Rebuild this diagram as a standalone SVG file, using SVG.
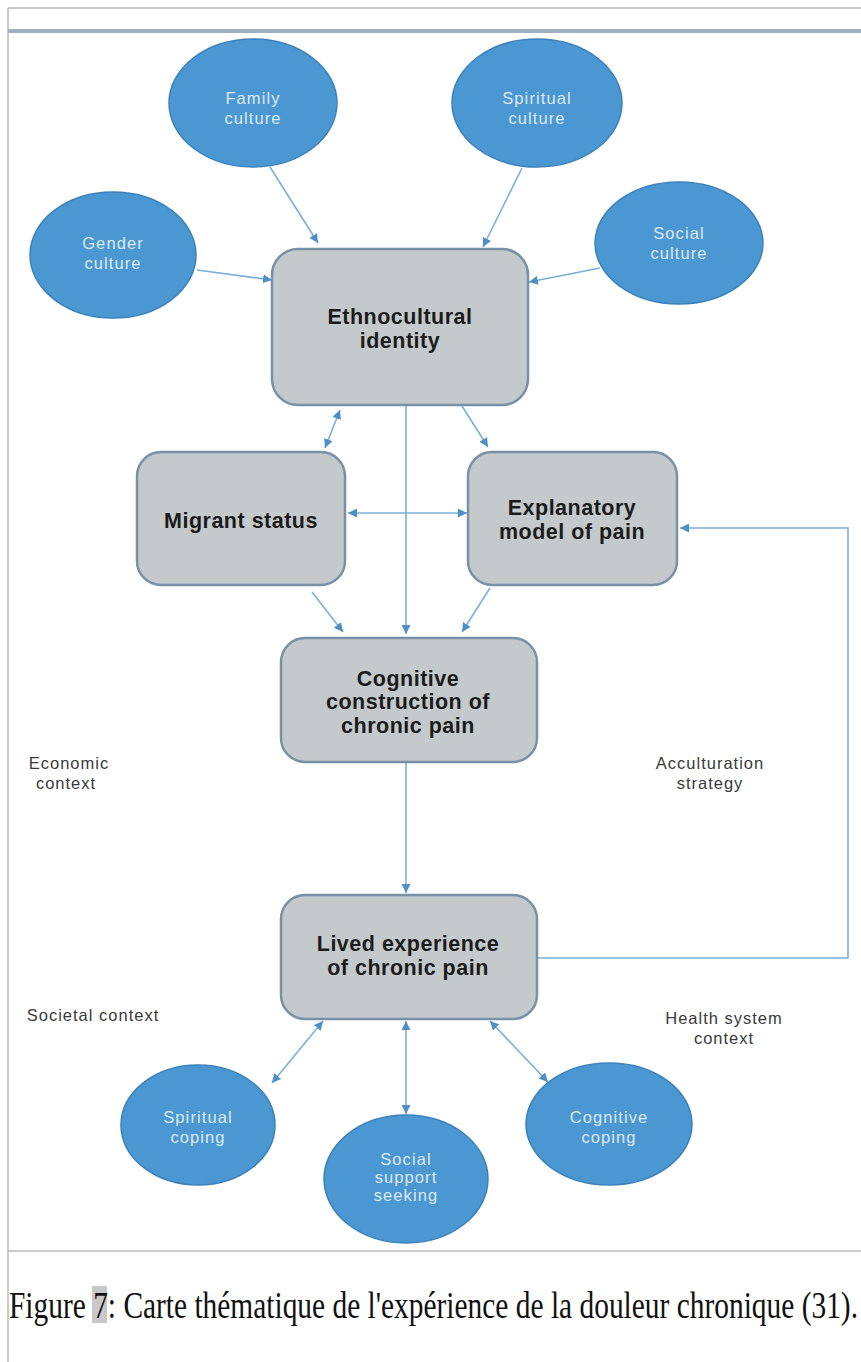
<svg xmlns="http://www.w3.org/2000/svg" width="861" height="1362" viewBox="0 0 861 1362">
<style>
.frame{stroke:#b9b9b9;stroke-width:1.5;fill:none}
.ell{fill:#4a97d2;stroke:#3b82bb;stroke-width:1.5}
.etx{font-family:"Liberation Sans",Arial,sans-serif;font-size:16.5px;letter-spacing:1.1px;fill:#dde9f5;text-anchor:middle}
.box{fill:#c4c9cc;stroke:#7891a7;stroke-width:2.5}
.btx{font-family:"Liberation Sans",Arial,sans-serif;font-size:21.5px;letter-spacing:0.5px;font-weight:bold;fill:#1b1b1b;text-anchor:middle}
.lbl{font-family:"Liberation Sans",Arial,sans-serif;font-size:16.5px;letter-spacing:1px;fill:#3a3a3a;text-anchor:middle}
.con{fill:none;stroke:#7ab0d8;stroke-width:1.6}
</style>
<defs>
<marker id="ah" viewBox="0 0 10 10" refX="10" refY="5" markerWidth="9" markerHeight="9" markerUnits="userSpaceOnUse" orient="auto-start-reverse">
<path d="M0,0 L10,5 L0,10 z" fill="#4e90c6"/>
</marker>
</defs>
<rect x="0" y="0" width="861" height="1362" fill="#ffffff"/>
<g id="frame">
<line class="frame" x1="8" y1="8" x2="861" y2="8"/>
<line class="frame" x1="8" y1="8" x2="8" y2="1362"/>
<rect x="8" y="29" width="853" height="4" fill="#9eb0c1"/>
<line class="frame" x1="8" y1="1251" x2="861" y2="1251"/>
</g>
<g id="connectors">
<path class="con" d="M270,167 L318,243" marker-end="url(#ah)"/>
<path class="con" d="M197,270 L272,280" marker-end="url(#ah)"/>
<path class="con" d="M522,168 L483,247" marker-end="url(#ah)"/>
<path class="con" d="M600,268 L529,282" marker-end="url(#ah)"/>
<path class="con" d="M340,410 L325,448" marker-start="url(#ah)" marker-end="url(#ah)"/>
<path class="con" d="M462,406 L488,447" marker-end="url(#ah)"/>
<path class="con" d="M406,405 L406,634" marker-end="url(#ah)"/>
<path class="con" d="M348,513 L467,513" marker-start="url(#ah)" marker-end="url(#ah)"/>
<path class="con" d="M312,592 L343,632" marker-end="url(#ah)"/>
<path class="con" d="M490,588 L462,632" marker-end="url(#ah)"/>
<path class="con" d="M406,763 L406,893" marker-end="url(#ah)"/>
<path class="con" d="M537,958 L848,958 L848,528 L680,528" marker-end="url(#ah)"/>
<path class="con" d="M323,1021 L272,1083" marker-start="url(#ah)" marker-end="url(#ah)"/>
<path class="con" d="M406,1021 L406,1114" marker-start="url(#ah)" marker-end="url(#ah)"/>
<path class="con" d="M490,1021 L548,1082" marker-start="url(#ah)" marker-end="url(#ah)"/>
</g>
<g id="family-culture">
<ellipse class="ell" cx="253" cy="103" rx="84" ry="64"/>
<text class="etx" x="253" y="104">Family</text>
<text class="etx" x="253" y="124">culture</text>
</g>
<g id="spiritual-culture">
<ellipse class="ell" cx="537" cy="103" rx="85" ry="64"/>
<text class="etx" x="537" y="104">Spiritual</text>
<text class="etx" x="537" y="124">culture</text>
</g>
<g id="gender-culture">
<ellipse class="ell" cx="113" cy="255" rx="83" ry="63"/>
<text class="etx" x="113" y="249">Gender</text>
<text class="etx" x="113" y="269">culture</text>
</g>
<g id="social-culture">
<ellipse class="ell" cx="679" cy="243" rx="84" ry="61"/>
<text class="etx" x="679" y="239">Social</text>
<text class="etx" x="679" y="259">culture</text>
</g>
<g id="ethnocultural-identity">
<rect class="box" x="272" y="249" width="256" height="156" rx="26"/>
<text class="btx" x="400" y="324">Ethnocultural</text>
<text class="btx" x="400" y="348">identity</text>
</g>
<g id="migrant-status">
<rect class="box" x="137" y="452" width="208" height="133" rx="24"/>
<text class="btx" x="241" y="528">Migrant status</text>
</g>
<g id="explanatory-model">
<rect class="box" x="468" y="452" width="209" height="133" rx="24"/>
<text class="btx" x="572" y="515">Explanatory</text>
<text class="btx" x="572" y="539">model of pain</text>
</g>
<g id="cognitive-construction">
<rect class="box" x="281" y="638" width="256" height="124" rx="24"/>
<text class="btx" x="408" y="686">Cognitive</text>
<text class="btx" x="408" y="709">construction of</text>
<text class="btx" x="408" y="733">chronic pain</text>
</g>
<g id="lived-experience">
<rect class="box" x="281" y="895" width="256" height="124" rx="24"/>
<text class="btx" x="408" y="951">Lived experience</text>
<text class="btx" x="408" y="975">of chronic pain</text>
</g>
<g id="context-labels">
<text class="lbl" x="69" y="769">Economic</text>
<text class="lbl" x="66" y="789">context</text>
<text class="lbl" x="710" y="769">Acculturation</text>
<text class="lbl" x="710" y="789">strategy</text>
<text class="lbl" x="93" y="1021">Societal context</text>
<text class="lbl" x="724" y="1024">Health system</text>
<text class="lbl" x="724" y="1044">context</text>
</g>
<g id="spiritual-coping">
<ellipse class="ell" cx="198" cy="1125" rx="77" ry="60"/>
<text class="etx" x="198" y="1123">Spiritual</text>
<text class="etx" x="198" y="1143">coping</text>
</g>
<g id="social-support-seeking">
<ellipse class="ell" cx="406" cy="1179" rx="82" ry="64"/>
<text class="etx" x="406" y="1165">Social</text>
<text class="etx" x="406" y="1183">support</text>
<text class="etx" x="406" y="1201">seeking</text>
</g>
<g id="cognitive-coping">
<ellipse class="ell" cx="609" cy="1124" rx="83" ry="61"/>
<text class="etx" x="609" y="1123">Cognitive</text>
<text class="etx" x="609" y="1143">coping</text>
</g>
<g id="caption">
<rect x="92" y="1286" width="15" height="37" fill="#c8c8c8"/>
<text transform="translate(9,1318) scale(1,1.3)" font-family="'Liberation Serif','Times New Roman',serif" font-size="29" fill="#111" textLength="849" lengthAdjust="spacingAndGlyphs">Figure 7: Carte thématique de l'expérience de la douleur chronique (31).</text>
</g>
</svg>
